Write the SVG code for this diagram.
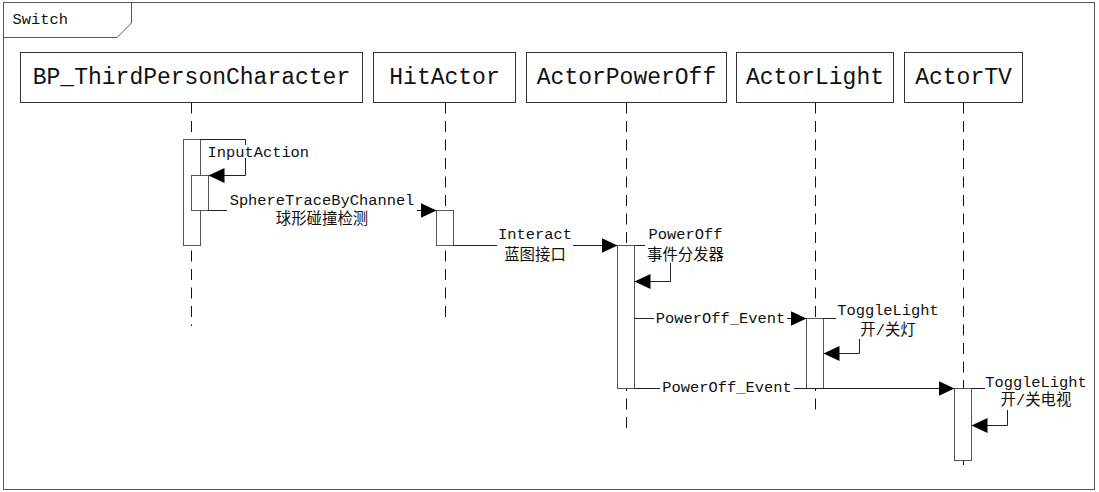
<svg xmlns="http://www.w3.org/2000/svg" width="1099" height="492" viewBox="0 0 1099 492">
<style>
.frame{fill:none;stroke:#555;stroke-width:1}
.box{fill:#fff;stroke:#333;stroke-width:1}
.title{font-family:"Liberation Mono","Noto Sans CJK SC",monospace;font-size:23px;fill:#111;text-anchor:middle}
.lbl{font-family:"Liberation Mono","Noto Sans CJK SC",monospace;font-size:15.4px;fill:#111}
.mid{text-anchor:middle}
.life{fill:none;stroke:#111;stroke-width:1;stroke-dasharray:11 7.5}
.act{fill:#fff;stroke:#555;stroke-width:1}
.msg{fill:none;stroke:#222;stroke-width:1;marker-end:url(#arr)}
.bg{fill:#fff;stroke:none}
</style>
<defs>
<marker id="arr" markerUnits="userSpaceOnUse" markerWidth="16" markerHeight="15" refX="16" refY="7.5" orient="auto">
<path d="M0,0 L16,7.5 L0,15 z" fill="#000"/>
</marker>
</defs>
<rect width="1099" height="492" fill="#fff"/>
<g id="frame">
<rect class="frame" x="3.5" y="2.5" width="1091" height="487"/>
<path class="frame" d="M3.5,37.5 H117 L131.5,23 V2.5"/>
<text class="lbl" x="12.5" y="24">Switch</text>
</g>
<g id="lifelines">
<line class="life" x1="191.5" y1="102.5" x2="191.5" y2="326"/>
<line class="life" x1="445.5" y1="102.5" x2="445.5" y2="322"/>
<line class="life" x1="626.5" y1="102.5" x2="626.5" y2="435"/>
<line class="life" x1="815.5" y1="102.5" x2="815.5" y2="411"/>
<line class="life" x1="963.5" y1="102.5" x2="963.5" y2="472"/>
</g>
<g id="BP_ThirdPersonCharacter">
<rect class="box" x="20.5" y="52.5" width="342" height="50"/>
<text class="title" x="191.5" y="84">BP_ThirdPersonCharacter</text>
<rect class="act" x="183.5" y="139.5" width="17" height="106"/>
<rect class="act" x="191.5" y="175.5" width="17" height="35"/>
</g>
<g id="HitActor">
<rect class="box" x="373.5" y="52.5" width="142" height="50"/>
<text class="title" x="444.5" y="84">HitActor</text>
<rect class="act" x="436.5" y="210.5" width="17" height="35"/>
</g>
<g id="ActorPowerOff">
<rect class="box" x="526.5" y="52.5" width="200" height="50"/>
<text class="title" x="626.5" y="84">ActorPowerOff</text>
<rect class="act" x="617.5" y="245.5" width="17" height="143"/>
</g>
<g id="ActorLight">
<rect class="box" x="736.5" y="52.5" width="157" height="50"/>
<text class="title" x="815" y="84">ActorLight</text>
<rect class="act" x="806.5" y="318.5" width="17" height="70"/>
</g>
<g id="ActorTV">
<rect class="box" x="904.5" y="52.5" width="118" height="50"/>
<text class="title" x="963.5" y="84">ActorTV</text>
<rect class="act" x="954.5" y="388.5" width="17" height="72"/>
</g>
<g id="connectors">
<path class="msg" d="M200.5,139.5 H245.5 V175.5 H208.5"/>
<path class="msg" d="M208.5,210.5 H436.5"/>
<path class="msg" d="M453.5,245.5 H617.5"/>
<path class="msg" d="M634.5,245.5 H670.5 V281.5 H634.5"/>
<path class="msg" d="M634.5,318.5 H806.5"/>
<path class="msg" d="M823.5,318.5 H859.5 V353.5 H823.5"/>
<path class="msg" d="M634.5,388.5 H954.5"/>
<path class="msg" d="M971.5,388.5 H1007.5 V425.5 H971.5"/>
</g>
<g id="labels">
<rect class="bg" x="205" y="145" width="106" height="13"/>
<text class="lbl" x="207.5" y="157">InputAction</text>
<rect class="bg" x="227" y="194" width="190" height="35"/>
<text class="lbl mid" x="322" y="205">SphereTraceByChannel</text>
<text class="lbl mid" x="322" y="224">球形碰撞检测</text>
<rect class="bg" x="497" y="228" width="76" height="36"/>
<text class="lbl mid" x="535" y="239">Interact</text>
<text class="lbl mid" x="535" y="259.5">蓝图接口</text>
<rect class="bg" x="645" y="228" width="82" height="35"/>
<text class="lbl mid" x="685.5" y="239">PowerOff</text>
<text class="lbl mid" x="685.5" y="260">事件分发器</text>
<rect class="bg" x="654" y="310" width="133" height="16"/>
<text class="lbl mid" x="720.5" y="323">PowerOff_Event</text>
<rect class="bg" x="836" y="305" width="104" height="34"/>
<text class="lbl mid" x="888" y="315">ToggleLight</text>
<text class="lbl mid" x="888" y="334.5">开/关灯</text>
<rect class="bg" x="660" y="380" width="134" height="16"/>
<text class="lbl mid" x="727" y="392">PowerOff_Event</text>
<rect class="bg" x="985" y="376" width="103" height="34"/>
<text class="lbl mid" x="1036" y="386.5">ToggleLight</text>
<text class="lbl mid" x="1036" y="405">开/关电视</text>
</g>
</svg>
